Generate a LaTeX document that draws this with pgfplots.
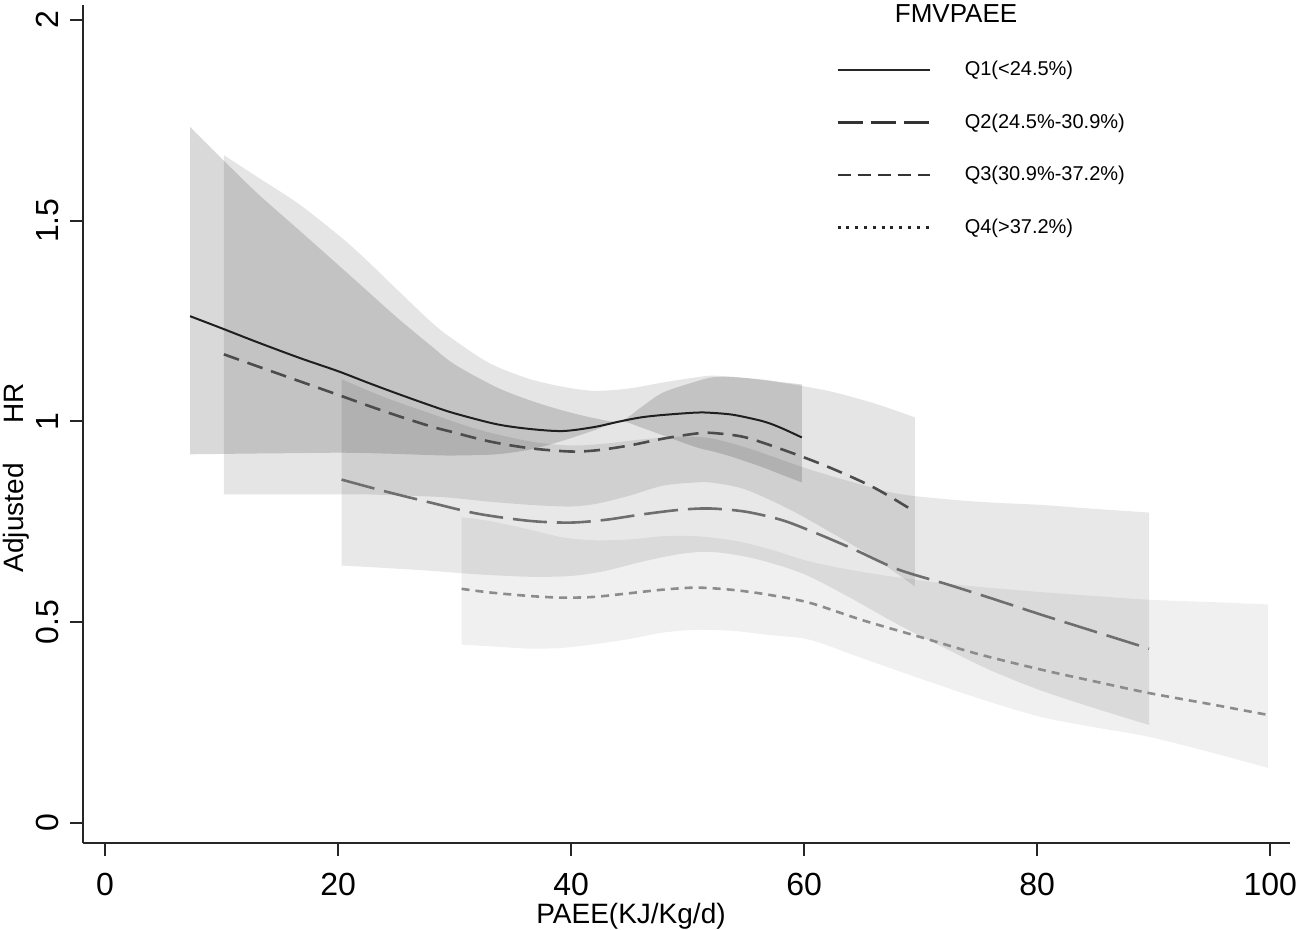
\documentclass[border=0pt]{standalone}
\usepackage{fontspec}
\setmainfont{Liberation Sans}
\usepackage{pgfplots}
\pgfplotsset{compat=1.18}
\usepackage{pgfplotstable}
\usepgfplotslibrary{fillbetween}

% Q1 (<24.5%), solid
\pgfplotstableread{
x est lo hi
7.3 1.262 0.918 1.733
10 1.232 0.919 1.655
13 1.198 0.920 1.570
16.7 1.158 0.921 1.475
20 1.125 0.922 1.390
22.5 1.097 0.921 1.325
25 1.070 0.919 1.260
27.9 1.040 0.916 1.190
30 1.020 0.915 1.142
33.6 0.993 0.918 1.085
36.5 0.981 0.930 1.052
39.3 0.976 0.952 1.027
42 0.986 0.978 1.008
44.2 1.000 1.000 1.000
46 1.010 0.985 1.035
47.9 1.016 0.965 1.072
50.8 1.022 0.935 1.100
52.2 1.021 0.925 1.110
54 1.016 0.910 1.110
56.5 1.000 0.885 1.104
58 0.984 0.868 1.098
59.8 0.960 0.848 1.092
}\qone

% Q3 (30.9%-37.2%), medium dashes
\pgfplotstableread{
x est lo hi
10.2 1.167 0.818 1.663
13 1.138 0.818 1.610
16.7 1.100 0.818 1.540
20.4 1.062 0.818 1.455
22.5 1.040 0.818 1.400
25 1.015 0.816 1.330
27.9 0.988 0.813 1.250
29.6 0.975 0.810 1.210
33 0.950 0.800 1.145
36.5 0.933 0.792 1.105
39.9 0.925 0.788 1.083
42.2 0.928 0.795 1.076
45 0.940 0.815 1.082
47.9 0.957 0.840 1.097
50.8 0.970 0.848 1.110
52.2 0.971 0.847 1.114
55 0.960 0.830 1.108
58.8 0.923 0.780 1.093
62.2 0.885 0.725 1.075
66 0.835 0.660 1.045
69.5 0.775 0.589 1.010
}\qthree

% Q2 (24.5%-30.9%), long dashes
\pgfplotstableread{
x est lo hi
20.3 0.855 0.641 1.105
24 0.826 0.635 1.060
27.9 0.798 0.628 1.020
32 0.770 0.619 0.980
36.5 0.752 0.613 0.950
40 0.748 0.615 0.940
43 0.755 0.628 0.945
46 0.768 0.650 0.955
49.4 0.780 0.670 0.962
52 0.783 0.675 0.958
55 0.775 0.663 0.935
58 0.755 0.640 0.905
60.5 0.728 0.613 0.880
64 0.685 0.560 0.850
68 0.632 0.495 0.820
72.3 0.594 0.432 0.806
76 0.560 0.380 0.798
80.3 0.519 0.330 0.792
85 0.476 0.285 0.782
89.6 0.434 0.244 0.773
}\qtwo

% Q4 (>37.2%), short dashes
\pgfplotstableread{
x est lo hi
30.6 0.583 0.444 0.761
33 0.574 0.440 0.752
36.5 0.565 0.434 0.730
39.3 0.561 0.436 0.711
42 0.563 0.445 0.704
45 0.572 0.458 0.706
47.9 0.581 0.474 0.714
50.8 0.586 0.481 0.714
54 0.580 0.478 0.703
57 0.568 0.468 0.682
60.5 0.548 0.456 0.651
65 0.505 0.410 0.625
70.2 0.461 0.357 0.603
75 0.420 0.310 0.588
80.3 0.382 0.264 0.575
85 0.352 0.238 0.565
89.5 0.324 0.215 0.556
95 0.295 0.175 0.550
99.8 0.269 0.137 0.544
}\qfour

\begin{document}
\begin{tikzpicture}
\begin{axis}[
  name=ax,
  scale only axis,
  width=603.5pt, height=419pt,
  xmin=-1.89, xmax=101.7, ymin=-0.05, ymax=2.037,
  axis x line=bottom, axis y line=left,
  axis line style={-, line width=1pt, color=black!85},
  xtick={0,20,40,60,80,100}, ytick={0,0.5,1,1.5,2},
  tick align=outside, major tick length=6.5pt,
  tick style={line width=1pt, color=black!85},
  /pgf/number format/assume math mode=true,
  ticklabel style={font=\fontsize{16}{18}\selectfont},
  yticklabel style={xshift=-6pt, rotate=90, anchor=base},
  xticklabel style={anchor=base, yshift=-19.5pt},
  xlabel={PAEE(KJ/Kg/d)},
  xlabel style={at={(axis description cs:0.454,0)}, anchor=base, yshift=-40pt, font=\fontsize{14}{16}\selectfont},
  ylabel={Adjusted\hspace{20pt}HR},
  ylabel style={at={(axis description cs:-0.0497,0.436)}, anchor=base, font=\fontsize{14}{16}\selectfont},
  legend style={draw=none, fill=none, at={(axis description cs:0.624,0.938)}, anchor=north west,
    inner sep=0pt, row sep=13.5pt, font=\fontsize{10}{12}\selectfont,
    /tikz/column 1/.style={column sep=15pt}},
  legend cell align=left,
  legend image code/.code={\draw[#1] (0pt,0pt) -- (46pt,0pt);},
]
\addlegendimage{line width=1pt, black!85}
\addlegendentry{Q1(<24.5\%)}
\addlegendimage{line width=1.1pt, black!80, dash pattern=on 12.5pt off 4pt}
\addlegendentry{Q2(24.5\%-30.9\%)}
\addlegendimage{line width=1.1pt, black!80, dash pattern=on 6.5pt off 3.5pt}
\addlegendentry{Q3(30.9\%-37.2\%)}
\addlegendimage{line width=1.1pt, black!85, dash pattern=on 1.5pt off 2.9pt}
\addlegendentry{Q4(>37.2\%)}

% confidence bands
\addplot[name path=q1u, draw=none, smooth, forget plot] table[x=x,y=hi]{\qone};
\addplot[name path=q1l, draw=none, smooth, forget plot] table[x=x,y=lo]{\qone};
\addplot[fill=black, fill opacity=0.15, draw=none, forget plot] fill between[of=q1u and q1l];

\addplot[name path=q3u, draw=none, smooth, forget plot] table[x=x,y=hi]{\qthree};
\addplot[name path=q3l, draw=none, smooth, forget plot] table[x=x,y=lo]{\qthree};
\addplot[fill=black, fill opacity=0.10, draw=none, forget plot] fill between[of=q3u and q3l];

\addplot[name path=q2u, draw=none, smooth, forget plot] table[x=x,y=hi]{\qtwo};
\addplot[name path=q2l, draw=none, smooth, forget plot] table[x=x,y=lo]{\qtwo};
\addplot[fill=black, fill opacity=0.09, draw=none, forget plot] fill between[of=q2u and q2l];

\addplot[name path=q4u, draw=none, smooth, forget plot] table[x=x,y=hi]{\qfour};
\addplot[name path=q4l, draw=none, smooth, forget plot] table[x=x,y=lo]{\qfour};
\addplot[fill=black, fill opacity=0.06, draw=none, forget plot] fill between[of=q4u and q4l];

% estimates
\addplot[smooth, color=black!45, line width=1.3pt, dash pattern=on 4pt off 3pt, forget plot] table[x=x,y=est]{\qfour};
\addplot[smooth, color=black!57, line width=1.3pt, dash pattern=on 17pt off 5pt, forget plot] table[x=x,y=est]{\qtwo};
\addplot[smooth, color=black!70, line width=1.3pt, dash pattern=on 8pt off 4.5pt, forget plot] table[x=x,y=est]{\qthree};
\addplot[smooth, color=black!88, line width=1pt, forget plot] table[x=x,y=est]{\qone};

\node[font=\fontsize{13}{15}\selectfont] at (axis description cs:0.7233,0.9893) {FMVPAEE};
\end{axis}
\pgfresetboundingbox
\path[use as bounding box] ([shift={(-41.5pt,-43.5pt)}]ax.south west) rectangle ([shift={(4.5pt,2.5pt)}]ax.north east);
\end{tikzpicture}
\end{document}
